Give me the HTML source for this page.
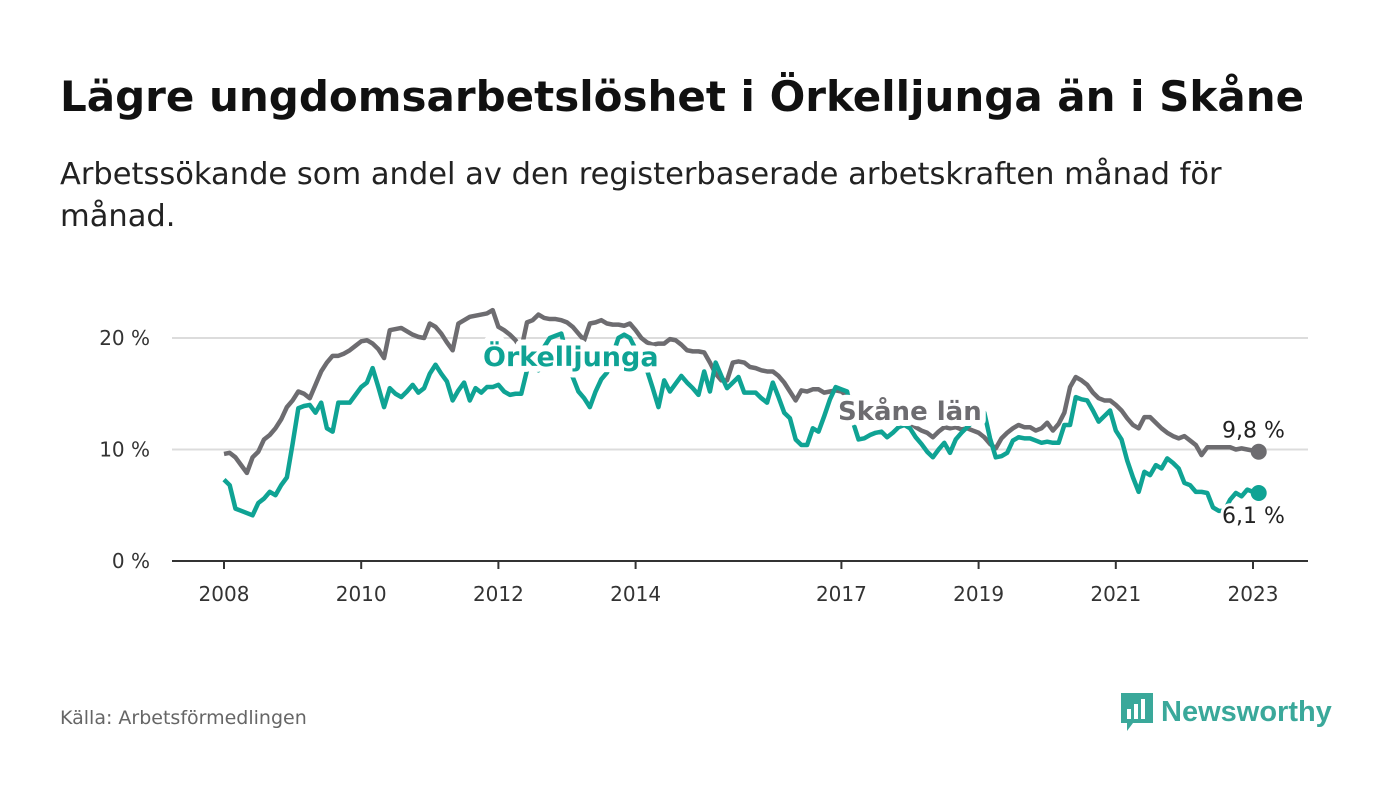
<!DOCTYPE html>
<html><head><meta charset="utf-8"><style>
body{margin:0;width:1400px;height:794px;background:#fff;font-family:"DejaVu Sans","Liberation Sans",sans-serif;overflow:hidden;position:relative}
h1{position:absolute;left:60px;top:72px;margin:0;font-size:42px;font-weight:bold;color:#111;white-space:nowrap}
.sub{position:absolute;left:60px;top:154px;width:1200px;font-size:30.5px;line-height:42px;color:#222}
.src{position:absolute;left:60px;top:707px;font-size:19px;color:#666}
svg{position:absolute;left:0;top:0}
</style></head><body>
<h1>Lägre ungdomsarbetslöshet i Örkelljunga än i Skåne</h1>
<div class="sub">Arbetssökande som andel av den registerbaserade arbetskraften månad för månad.</div>
<div class="src">Källa: Arbetsförmedlingen</div>
<svg width="1400" height="794" id="chart"></svg>
<script>
const yTicks=[0,10,20];
const xTickYears=[2008,2010,2012,2014,2017,2019,2021,2023];
const skane=[9.6,9.7,9.3,8.6,7.9,9.3,9.8,10.9,11.3,11.9,12.7,13.8,14.4,15.2,15.0,14.6,15.8,17.0,17.8,18.4,18.4,18.6,18.9,19.3,19.7,19.8,19.5,19.0,18.2,20.7,20.8,20.9,20.6,20.3,20.1,20.0,21.3,21.0,20.4,19.6,18.9,21.3,21.6,21.9,22.0,22.1,22.2,22.5,21.0,20.7,20.3,19.8,19.0,21.4,21.6,22.1,21.8,21.7,21.7,21.6,21.4,21.0,20.4,19.8,21.3,21.4,21.6,21.3,21.2,21.2,21.1,21.3,20.7,20.0,19.6,19.4,19.5,19.5,19.9,19.8,19.4,18.9,18.8,18.8,18.7,17.8,16.8,16.2,16.2,17.8,17.9,17.8,17.4,17.3,17.1,17.0,17.0,16.6,16.0,15.2,14.4,15.3,15.2,15.4,15.4,15.1,15.2,15.3,15.2,14.8,14.6,14.3,14.0,13.6,13.2,12.9,12.8,12.7,12.5,12.2,12.4,12.0,11.7,11.5,11.1,11.6,12.0,11.9,12.0,11.8,11.9,11.7,11.5,11.1,10.5,10.1,11.0,11.5,11.9,12.2,12.0,12.0,11.7,11.9,12.4,11.7,12.3,13.3,15.6,16.5,16.2,15.8,15.1,14.6,14.4,14.4,14.0,13.5,12.8,12.2,11.9,12.9,12.9,12.4,11.9,11.5,11.2,11.0,11.2,10.8,10.4,9.5,10.2,10.2,10.2,10.2,10.2,10.0,10.1,10.0,9.9,9.8];
const orkelljunga=[7.3,6.8,4.7,4.5,4.3,4.1,5.2,5.6,6.2,5.9,6.8,7.5,10.5,13.7,13.9,14.0,13.3,14.2,11.9,11.6,14.2,14.2,14.2,14.9,15.6,16.0,17.3,15.6,13.8,15.5,15.0,14.7,15.2,15.8,15.1,15.5,16.8,17.6,16.8,16.1,14.4,15.3,16.0,14.4,15.5,15.1,15.6,15.6,15.8,15.2,14.9,15.0,15.0,17.1,19.0,17.1,19.2,20.0,20.2,20.4,18.5,16.5,15.2,14.6,13.8,15.2,16.3,16.9,18.5,20.0,20.3,20.0,19.0,18.0,17.1,15.5,13.8,16.2,15.2,15.9,16.6,16.0,15.5,14.9,17.0,15.2,17.8,16.6,15.5,16.0,16.5,15.1,15.1,15.1,14.6,14.2,16.0,14.7,13.3,12.8,10.9,10.4,10.4,11.9,11.6,13.0,14.5,15.6,15.4,15.2,12.5,10.9,11.0,11.3,11.5,11.6,11.1,11.5,12.0,12.2,11.9,11.1,10.5,9.8,9.3,10.0,10.6,9.7,10.9,11.5,12.0,12.5,13.0,13.3,11.0,9.3,9.4,9.7,10.8,11.1,11.0,11.0,10.8,10.6,10.7,10.6,10.6,12.2,12.2,14.7,14.5,14.4,13.5,12.5,13.0,13.5,11.7,10.9,9.0,7.5,6.2,8.0,7.7,8.6,8.3,9.2,8.8,8.3,7.0,6.8,6.2,6.2,6.1,4.8,4.5,4.5,5.5,6.1,5.8,6.4,6.2,6.1];
const NS='http://www.w3.org/2000/svg';
const svg=document.getElementById('chart');
const X=m=>224+m*(1253-224)/180;
const Y=v=>561-v*11.15;
function mk(t,a,txt){const e=document.createElementNS(NS,t);for(const k in a)e.setAttribute(k,a[k]);if(txt!=null)e.textContent=txt;svg.appendChild(e);return e;}
yTicks.forEach(v=>{
 if(v>0){const g=mk('line',{x1:172,x2:1308,y1:Y(v),y2:Y(v),stroke:'#dcdcdc','stroke-width':2});
 
 }
 const t=mk('text',{x:150,y:Y(v)+7,'text-anchor':'end','font-size':20,fill:'#333'},v+' %');
 
 
});
const ax=mk('line',{x1:172,x2:1308,y1:561,y2:561,stroke:'#333','stroke-width':2});


xTickYears.forEach(yr=>{
 const x=X((yr-2008)*12);
 const tk=mk('line',{x1:x,x2:x,y1:561,y2:569,stroke:'#333','stroke-width':2});
 
 
 const t=mk('text',{x:x,y:601,'text-anchor':'middle','font-size':20,fill:'#333'},String(yr));
 
 
});
function line(arr,col,name){
 const p=mk('polyline',{points:arr.map((v,i)=>X(i)+','+Y(v)).join(' '),fill:'none',stroke:col,'stroke-width':4.5,'stroke-linejoin':'round'});
 
 
 const n=arr.length-1;
 const c=mk('circle',{cx:X(n),cy:Y(arr[n]),r:8,fill:col});
 
 
}
line(skane,'#6d6c70','skane-line');
line(orkelljunga,'#0fa394','orkelljunga-line');
function lab(x,y,txt,col,fs,w,name){
 const t=mk('text',{x:x,y:y,'font-size':fs,'font-weight':w?'bold':'normal',fill:col,stroke:'#fff','stroke-width':w?12:6,'paint-order':'stroke','stroke-linejoin':'round'},txt);
 
 
}
lab(483,366,'Örkelljunga','#0fa394',27,true,'orkelljunga-label');
lab(838,420,'Skåne län','#6d6c70',26,true,'skane-label');
const n=skane.length-1;
lab(1222,Y(skane[n])-14,(skane[n]+'').replace('.',',')+' %','#222',22,false,'skane-end-value');
lab(1222,Y(orkelljunga[orkelljunga.length-1])+30,(orkelljunga[orkelljunga.length-1]+'').replace('.',',')+' %','#222',22,false,'orkelljunga-end-value');
</script>
<div style="position:absolute;left:1119px;top:691px;display:flex;align-items:center">
 <svg width="36" height="42" style="position:relative"><path d="M2 2h32v30H14l-6 8v-8H2z" fill="#3aa89a"/><rect x="8" y="18" width="4" height="10" fill="#fff"/><rect x="15" y="13" width="4" height="15" fill="#fff"/><rect x="22" y="8" width="4" height="20" fill="#fff"/></svg>
 <span style="font-family:'Liberation Sans',sans-serif;font-size:29px;font-weight:bold;color:#3aa89a;margin-left:6px">Newsworthy</span>
</div>
</body></html>
